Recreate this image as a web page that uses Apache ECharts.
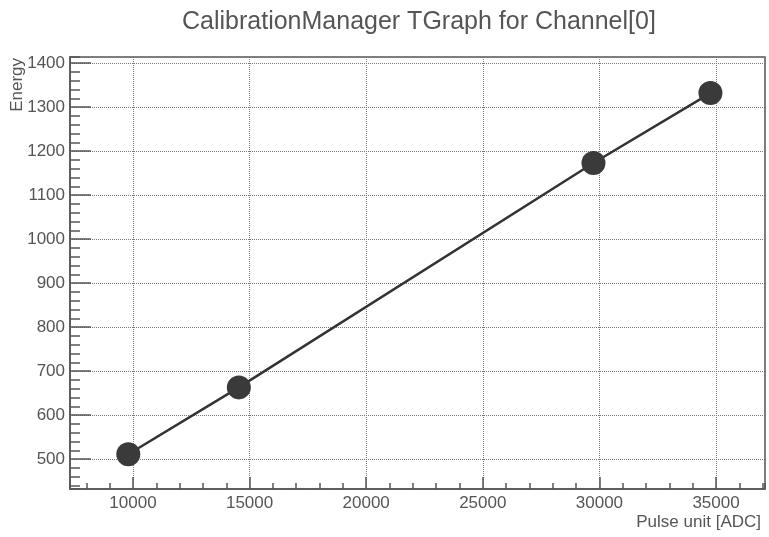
<!DOCTYPE html>
<html>
<head>
<meta charset="utf-8">
<title>CalibrationManager TGraph for Channel[0]</title>
<script src="https://cdn.jsdelivr.net/npm/echarts@6/dist/echarts.min.js"></script>
<style>
  html, body { margin: 0; padding: 0; background: #ffffff; }
  #chart { width: 769px; height: 537px; }
</style>
</head>
<body>
<div id="chart"></div>
<script>
// Calibration points: pulse height (ADC) vs. energy
const pulseADC = [9800, 14540, 29745, 34760];
const energy = [511, 663, 1173, 1332];

const titleText = 'CalibrationManager TGraph for Channel[0]';
const xTitle = 'Pulse unit [ADC]';
const yTitle = 'Energy';

// Axis ranges (data range padded by 10% on each side)
const xRange = [7300, 37100];
const yRange = [432, 1414];
const xMajor = 5000, xMinor = 1000;
const yMajor = 100, yMinor = 20;

const FONT = 'Liberation Sans, Arial, Helvetica, sans-serif';
const INK = '#555555';

const points = pulseADC.map((x, i) => [x, energy[i]]);
const plain = v => String(v);

const chart = echarts.init(document.getElementById('chart'), null, { renderer: 'canvas' });

const axisLineStyle = { color: INK, width: 1.5 };

chart.setOption({
  backgroundColor: '#ffffff',
  animation: false,
  title: {
    text: titleText,
    left: 182,
    top: 10,
    padding: 0,
    textStyle: { fontFamily: FONT, fontSize: 25, fontWeight: 'normal', color: INK }
  },
  grid: {
    left: 70, right: 4, top: 57, bottom: 48,
    show: true,
    borderColor: INK,
    borderWidth: 1.5,
    backgroundColor: 'transparent',
    containLabel: false,
    outerBoundsMode: 'none'
  },
  graphic: [{
    type: 'text',
    x: 26,
    y: 58,
    rotation: Math.PI / 2,
    style: {
      text: yTitle,
      align: 'right',
      verticalAlign: 'bottom',
      font: '17px ' + FONT,
      fill: INK
    }
  }],
  xAxis: [
    {
      type: 'value',
      position: 'bottom',
      min: xRange[0], max: xRange[1],
      minInterval: xMajor, maxInterval: xMajor, splitNumber: 6,
      axisLine: { show: true, lineStyle: axisLineStyle },
      axisTick: { show: true, inside: true, length: 12, lineStyle: axisLineStyle },
      axisLabel: {
        showMinLabel: false, showMaxLabel: false, formatter: plain,
        margin: 6, fontFamily: FONT, fontSize: 17, color: INK
      },
      splitLine: { show: true, lineStyle: { type: 'dotted', color: '#777777', width: 1 } },
      name: xTitle,
      nameLocation: 'end',
      nameGap: -4,
      nameTextStyle: {
        align: 'right', verticalAlign: 'top',
        fontFamily: FONT, fontSize: 17, color: INK,
        padding: [25, 0, 0, 0]
      }
    },
    {
      // minor ticks only
      type: 'value',
      position: 'bottom',
      min: xRange[0], max: xRange[1],
      minInterval: xMinor, maxInterval: xMinor, splitNumber: 30,
      axisLine: { show: false },
      axisTick: { show: true, inside: true, length: 6, lineStyle: axisLineStyle },
      axisLabel: { show: false },
      splitLine: { show: false }
    }
  ],
  yAxis: [
    {
      type: 'value',
      position: 'left',
      min: yRange[0], max: yRange[1],
      minInterval: yMajor, maxInterval: yMajor, splitNumber: 10,
      axisLine: { show: true, lineStyle: axisLineStyle },
      axisTick: { show: true, inside: true, length: 21, lineStyle: axisLineStyle },
      axisLabel: {
        showMinLabel: false, showMaxLabel: false, formatter: plain,
        margin: 5, fontFamily: FONT, fontSize: 17, color: INK
      },
      splitLine: { show: true, lineStyle: { type: 'dotted', color: '#777777', width: 1 } }
    },
    {
      // minor ticks only
      type: 'value',
      position: 'left',
      offset: 0,
      min: yRange[0], max: yRange[1],
      minInterval: yMinor, maxInterval: yMinor, splitNumber: 50,
      axisLine: { show: false },
      axisTick: { show: true, inside: true, length: 10, lineStyle: axisLineStyle },
      axisLabel: { show: false },
      splitLine: { show: false }
    }
  ],
  series: [{
    type: 'line',
    xAxisIndex: 0,
    yAxisIndex: 0,
    data: points,
    symbol: 'circle',
    symbolSize: 24,
    showAllSymbol: true,
    lineStyle: { color: '#333333', width: 2.5 },
    itemStyle: { color: '#3a3a3a', borderWidth: 0 },
    z: 5
  }]
});
</script>
</body>
</html>
